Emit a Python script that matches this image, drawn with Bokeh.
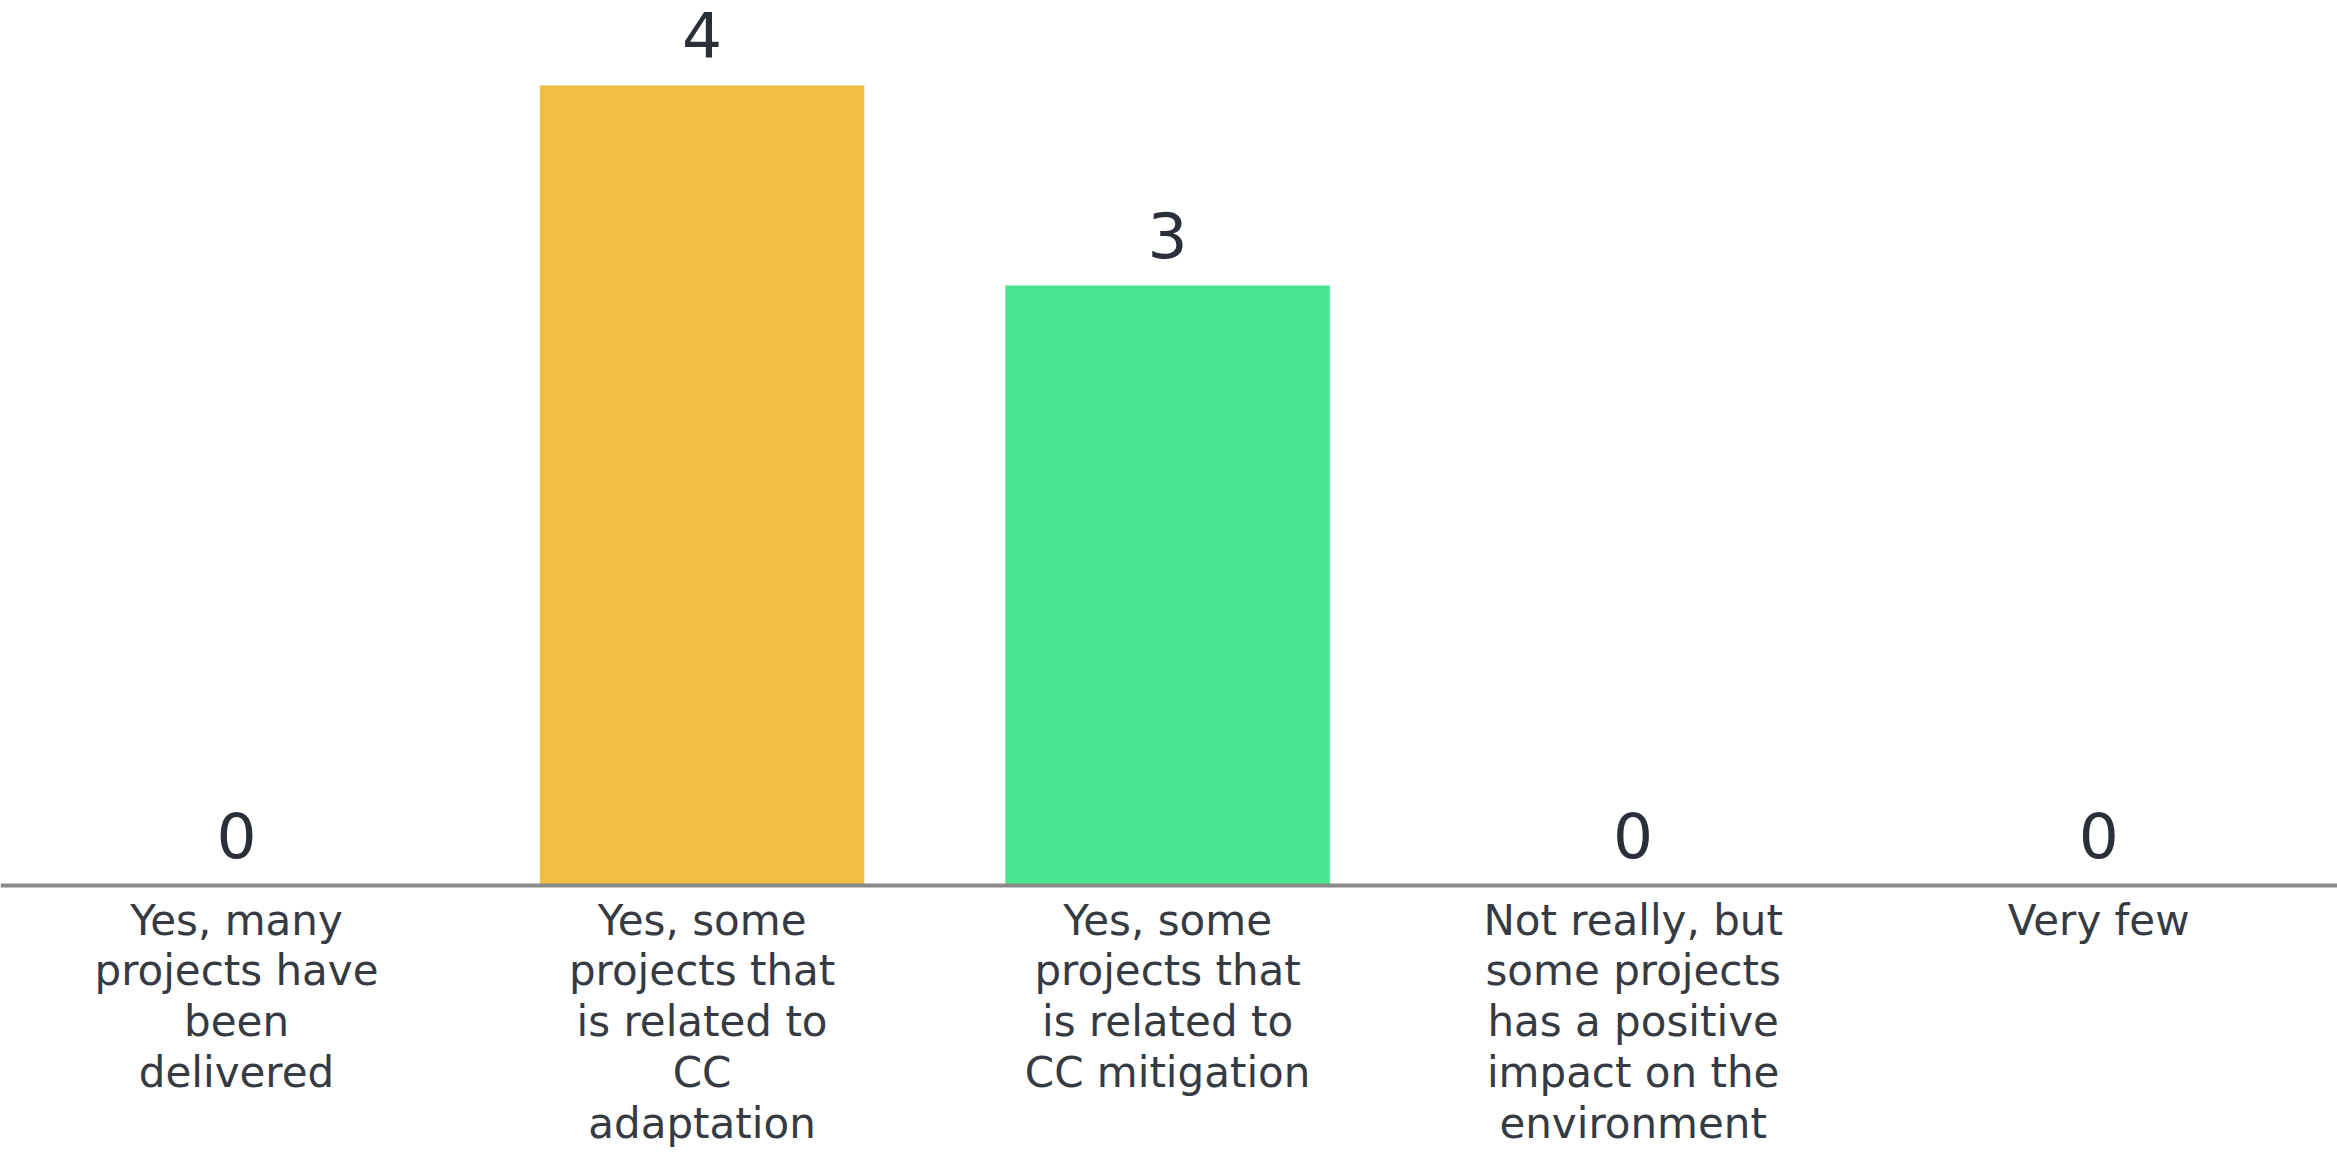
from bokeh.plotting import figure
from bokeh.models import ColumnDataSource, Range1d, Span
from bokeh.core.properties import value
from bokeh.embed import file_html
from bokeh.resources import INLINE

# ---- data ----
categories = [
    "Yes, many\nprojects have\nbeen\ndelivered",
    "Yes, some\nprojects that\nis related to\nCC\nadaptation",
    "Yes, some\nprojects that\nis related to\nCC mitigation",
    "Not really, but\nsome projects\nhas a positive\nimpact on the\nenvironment",
    "Very few",
]
counts = [0, 4, 3, 0, 0]
bar_colors = ["#5769E7", "#F0BE41", "#46E591", "#FF7E6B", "#6B4EE0"]

W, H = 2337, 1154
PX_PER_UNIT = 200.0
VALUE_GAP_PX = 51
CAT_GAP_PX = 10

x_idx = list(range(len(categories)))

src = ColumnDataSource(dict(
    x=x_idx,
    top=counts,
    color=bar_colors,
    label=[str(c) for c in counts],
    label_y=[c + VALUE_GAP_PX / PX_PER_UNIT for c in counts],
    cat=categories,
    cat_y=[-CAT_GAP_PX / PX_PER_UNIT] * len(categories),
))

p = figure(width=W, height=H, output_backend="svg", toolbar_location=None,
           x_range=Range1d(-0.507, 4.513), y_range=Range1d(-1.345, 4.425),
           min_border=0, outline_line_color=None, background_fill_color="white",
           border_fill_color="white")
p.axis.visible = False
p.grid.visible = False

p.vbar(x="x", top="top", bottom=0, width=0.697, color="color", line_color=None, source=src)

p.add_layout(Span(location=0, dimension="width", line_color="#8a8a8a", line_width=4))

p.text(x="x", y="label_y", text="label", source=src, text_align="center",
       text_baseline="alphabetic",
       text_font=value("DejaVu Sans"), text_font_size="63px", text_color="#2b2f38")

p.text(x="x", y="cat_y", text="cat", source=src, text_align="center",
       text_baseline="top", text_line_height=1.04,
       text_font=value("DejaVu Sans"), text_font_size="42px", text_color="#363a42")

open("out.html", "w").write(file_html(p, INLINE))
